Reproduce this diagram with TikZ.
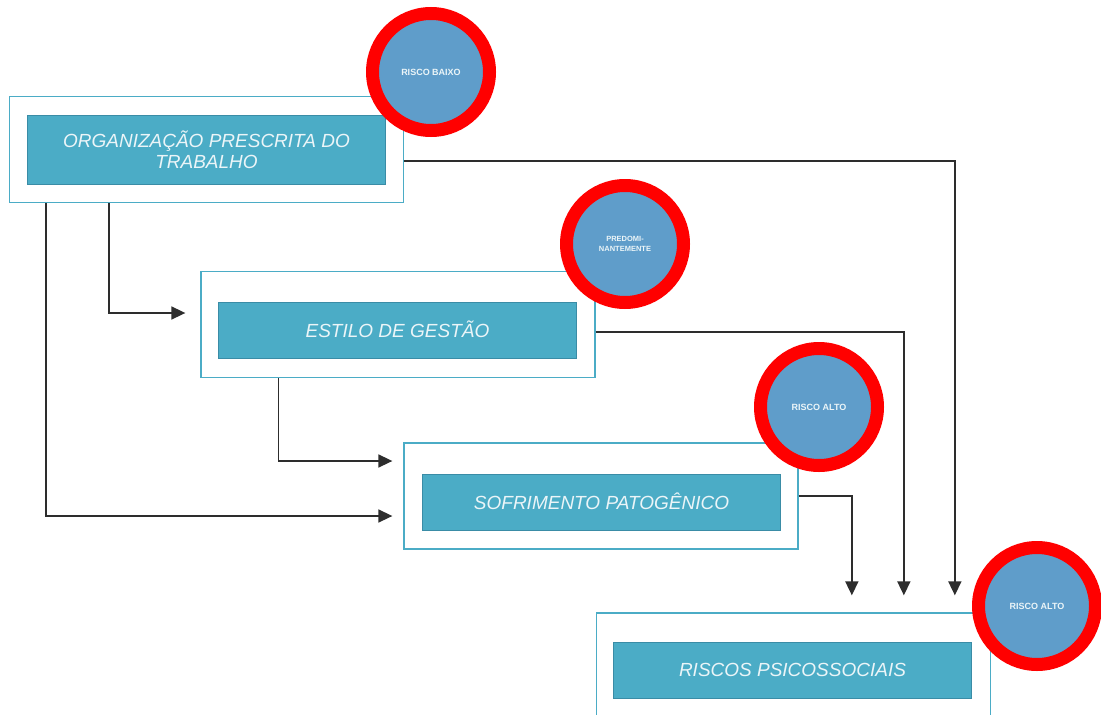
\documentclass[tikz,border=0pt]{standalone}
\usepackage{fontspec}
\setmainfont{Liberation Sans}
\usetikzlibrary{arrows.meta}
\definecolor{boxteal}{RGB}{75,172,198}
\definecolor{boxedge}{RGB}{58,140,166}
\definecolor{riskblue}{RGB}{95,157,202}
\definecolor{riskred}{RGB}{255,0,0}
\definecolor{linkgray}{RGB}{45,45,45}
\definecolor{labelwhite}{RGB}{235,245,248}
\begin{document}
\begin{tikzpicture}[x=1pt,y=-1pt,
  frame/.style={draw=boxteal,line width=1.3pt,fill=white,minimum width=394pt,minimum height=106pt,inner sep=0pt},
  topic/.style={draw=boxedge,line width=1pt,fill=boxteal,minimum width=358pt,minimum height=56pt,inner sep=0pt,
    text=labelwhite,font=\fontsize{19}{21}\selectfont\itshape,align=center},
  risk/.style={circle,draw=riskred,line width=13pt,fill=riskblue,minimum size=117pt,inner sep=0pt,
    text=labelwhite,font=\fontsize{9}{10}\selectfont\bfseries,align=center},
  link/.style={draw=linkgray,line width=1.6pt,-{Triangle[length=14pt,width=13pt]}}]

  \useasboundingbox (0,0) rectangle (1101,715);

  \node[frame] (orgF) at (206.5,149.5) {};
  \node[topic,minimum height=69pt] (org) at (206.5,149.5) {ORGANIZAÇÃO PRESCRITA DO\\TRABALHO};
  \node[frame] (estF) at (398,324.5) {};
  \node[topic] (est) at (397.5,330.5) {\raisebox{2pt}{ESTILO DE GESTÃO}};
  \node[frame] (sofF) at (601,496) {};
  \node[topic] (sof) at (601.5,502) {\raisebox{2pt}{SOFRIMENTO PATOGÊNICO}};
  \node[frame] (rspF) at (793.5,666) {};
  \node[topic] (rsp) at (792.5,670.5) {\raisebox{2pt}{RISCOS PSICOSSOCIAIS}};

  \draw[link,shorten >=15pt] ([xshift=100pt]orgF.south west) |- ([yshift=11.5pt]estF.west);
  \draw[link,shorten >=11pt] ([xshift=37pt]orgF.south west) |- ([yshift=-20pt]sofF.west);
  \draw[link,shorten >=11pt] ([xshift=78pt]estF.south west) |- ([yshift=35pt]sofF.west);
  \draw[link,shorten >=17pt] ([yshift=-11.5pt]orgF.east) -| ([xshift=359pt]rspF.north west);
  \draw[link,shorten >=17pt] ([yshift=-7.5pt]estF.east) -| ([xshift=308pt]rspF.north west);
  \draw[link,shorten >=17pt] (sofF.east) -| ([xshift=256pt]rspF.north west);

  \node[risk] (rb) at (431,72) {RISCO BAIXO};
  \node[risk,font=\fontsize{7.5}{10}\selectfont\bfseries] (pd) at (625,244) {PREDOMI-\\NANTEMENTE};
  \node[risk] (ra1) at (819,407) {RISCO ALTO};
  \node[risk] (ra2) at (1037,606) {RISCO ALTO};
\end{tikzpicture}
\end{document}
